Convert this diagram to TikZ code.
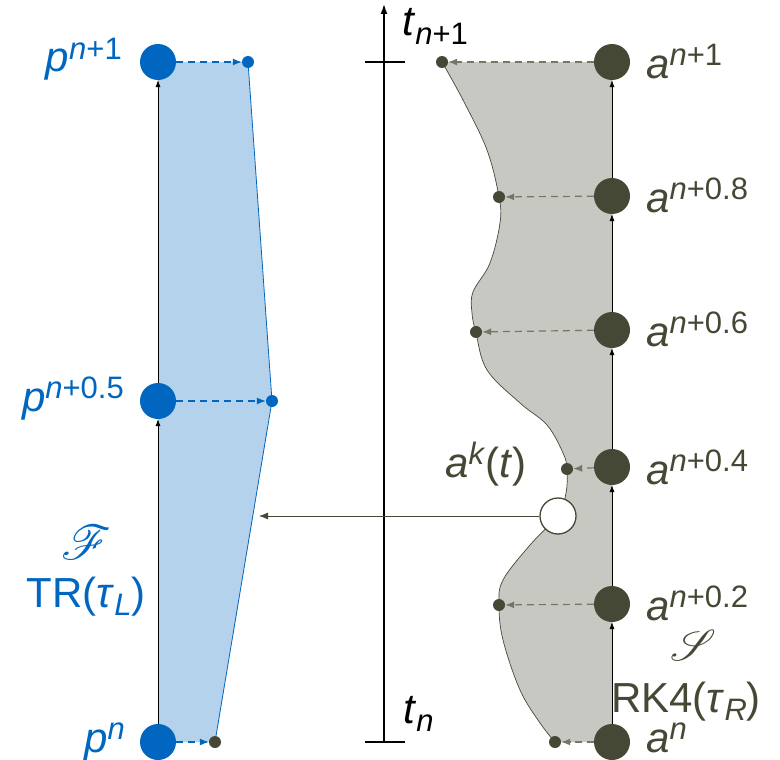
\documentclass[tikz,border=0pt]{standalone}
\usepackage{fontspec}
\setmainfont{Liberation Sans}
\usepackage{mathrsfs}
\usetikzlibrary{arrows.meta}
\definecolor{pblue}{RGB}{0,102,191}
\definecolor{lblue}{RGB}{180,210,235}
\definecolor{olive}{RGB}{69,72,53}
\definecolor{lgray}{RGB}{199,200,194}
\newcommand{\supx}[1]{\raisebox{0.3em}{\fontsize{31}{33}\selectfont #1}}
\newcommand{\subx}[1]{\raisebox{-0.2em}{\fontsize{31}{33}\selectfont #1}}
\begin{document}
\begin{tikzpicture}[x=1pt,y=-1pt,
  bigdot/.style={circle,minimum size=36pt,inner sep=0pt},
  smalldot/.style={circle,minimum size=12pt,inner sep=0pt},
  lbl/.style={inner sep=0pt,font=\fontsize{42}{46}\selectfont},
  uparrow/.style={draw=black,line width=0.6pt,-{Latex[length=7pt,width=5pt]}},
  dasharrow/.style={line width=1.2pt,dash pattern=on 7pt off 5pt,-{Latex[length=9pt,width=7pt]}}
]
\useasboundingbox (0,0) rectangle (780,760);

% ---------- left (blue) column ----------
\fill[lblue] (158,62) -- (248,62) -- (272,401) -- (215,742) -- (158,742) -- cycle;
\draw[pblue,line width=0.8pt] (248,62) -- (272,401) -- (215,742);

\node[bigdot,fill=pblue] (p1) at (158,62) {};
\node[bigdot,fill=pblue] (p05) at (158,401) {};
\node[bigdot,fill=pblue] (p0) at (158,742) {};
\node[smalldot,fill=pblue] (q1) at (248,62) {};
\node[smalldot,fill=pblue] (q05) at (272,401) {};
\node[smalldot,fill=olive] (q0) at (215,742) {};

\draw[uparrow] (p0) -- (p05);
\draw[uparrow] (p05) -- (p1);
\draw[dasharrow,pblue] (p1) -- (q1);
\draw[dasharrow,pblue] (p05) -- (q05);
\draw[dasharrow,pblue] (p0) -- (q0);

\node[lbl,pblue,anchor=base east] (lp1) at (122,72) {\textit{p}\supx{\textit{n}+1}};
\node[lbl,pblue,anchor=base east] (lp05) at (124,411) {\textit{p}\supx{\textit{n}+0.5}};
\node[lbl,pblue,anchor=base east] (lp0) at (125,752) {\textit{p}\supx{\textit{n}}};
\node[pblue,inner sep=0pt] (lF) at (87,543) {\resizebox{50pt}{!}{$\mathscr{F}$}};
\node[lbl,pblue,anchor=base] (lTR) at (86,607) {TR(\textit{τ}\subx{\textit{L}})};

% ---------- time axis ----------
\node[inner sep=0pt] (ax0) at (384,742) {};
\coordinate (axtop) at (384,4);
\draw[line width=1.4pt,-{Latex[length=10pt,width=7pt]}] (ax0.center) -- (axtop);
\coordinate (t1a) at (365,62);
\coordinate (t1b) at (405,62);
\coordinate (t0a) at (365,742);
\coordinate (t0b) at (405,742);
\draw[line width=1.4pt] (t1a) -- (t1b);
\draw[line width=1.4pt] (t0a) -- (t0b);
\node[lbl,anchor=base west] (ltn1) at (402,36) {\textit{t}\subx{\textit{n}+1}};
\node[lbl,anchor=base west] (ltn) at (403,723) {\textit{t}\subx{\textit{n}}};

% ---------- right (gray) column ----------
\fill[lgray] (612,62) -- plot[smooth,tension=0.6] coordinates {(442,62) (463,100) (487,150) (499,197) (500,223) (490,263) (473,292) (472,313) (476,333) (487,370) (520,403) (547,425) (563,453) (567,469) (566,493) (558,515) (530,545) (503,580) (499,605) (503,640) (520,690) (540,723) (555,742)} -- (612,742) -- cycle;
\draw[olive,line width=0.7pt] plot[smooth,tension=0.6] coordinates {(442,62) (463,100) (487,150) (499,197) (500,223) (490,263) (473,292) (472,313) (476,333) (487,370) (520,403) (547,425) (563,453) (567,469) (566,493) (558,515) (530,545) (503,580) (499,605) (503,640) (520,690) (540,723) (555,742)};

\node[bigdot,fill=olive] (a10) at (612,62) {};
\node[bigdot,fill=olive] (a8) at (612,196) {};
\node[bigdot,fill=olive] (a6) at (612,330) {};
\node[bigdot,fill=olive] (a4) at (612,467) {};
\node[bigdot,fill=olive] (a2) at (612,604) {};
\node[bigdot,fill=olive] (a0) at (612,742) {};
\node[smalldot,fill=olive] (b10) at (442,62) {};
\node[smalldot,fill=olive] (b8) at (499,197) {};
\node[smalldot,fill=olive] (b6) at (476,332) {};
\node[smalldot,fill=olive] (b4) at (567,469) {};
\node[smalldot,fill=olive] (b2) at (499,605) {};
\node[smalldot,fill=olive] (b0) at (555,742) {};
\node[bigdot,fill=white,draw=olive,line width=1.3pt] (ak) at (558,516) {};

\draw[uparrow] (a0) -- (a2);
\draw[uparrow] (a2) -- (a4);
\draw[uparrow] (a4) -- (a6);
\draw[uparrow] (a6) -- (a8);
\draw[uparrow] (a8) -- (a10);
\draw[dasharrow,olive!75] (a10) -- (b10);
\draw[dasharrow,olive!75] (a8) -- (b8);
\draw[dasharrow,olive!75] (a6) -- (b6);
\draw[dasharrow,olive!75] (a4) -- (b4);
\draw[dasharrow,olive!75] (a2) -- (b2);
\draw[dasharrow,olive!75] (a0) -- (b0);

\coordinate (akend) at (259,516);
\draw[olive,line width=0.8pt,-{Latex[length=9pt,width=7pt]}] (ak) -- (akend);

\node[lbl,olive,anchor=base west] (la10) at (646,78) {\textit{a}\supx{\textit{n}+1}};
\node[lbl,olive,anchor=base west] (la8) at (646,212) {\textit{a}\supx{\textit{n}+0.8}};
\node[lbl,olive,anchor=base west] (la6) at (646,346) {\textit{a}\supx{\textit{n}+0.6}};
\node[lbl,olive,anchor=base west] (la4) at (646,484) {\textit{a}\supx{\textit{n}+0.4}};
\node[lbl,olive,anchor=base west] (la2) at (646,620) {\textit{a}\supx{\textit{n}+0.2}};
\node[lbl,olive,anchor=base west] (la0) at (646,752) {\textit{a}\supx{\textit{n}}};
\node[lbl,olive,anchor=base west] (lak) at (445,477) {\textit{a}\supx{\textit{k}}(\textit{t})};
\node[olive,inner sep=0pt] (lS) at (693,645) {\resizebox{46pt}{!}{$\mathscr{S}$}};
\node[lbl,olive,anchor=base] (lRK) at (686,712) {RK4(\textit{τ}\subx{\textit{R}})};
\end{tikzpicture}
\end{document}
